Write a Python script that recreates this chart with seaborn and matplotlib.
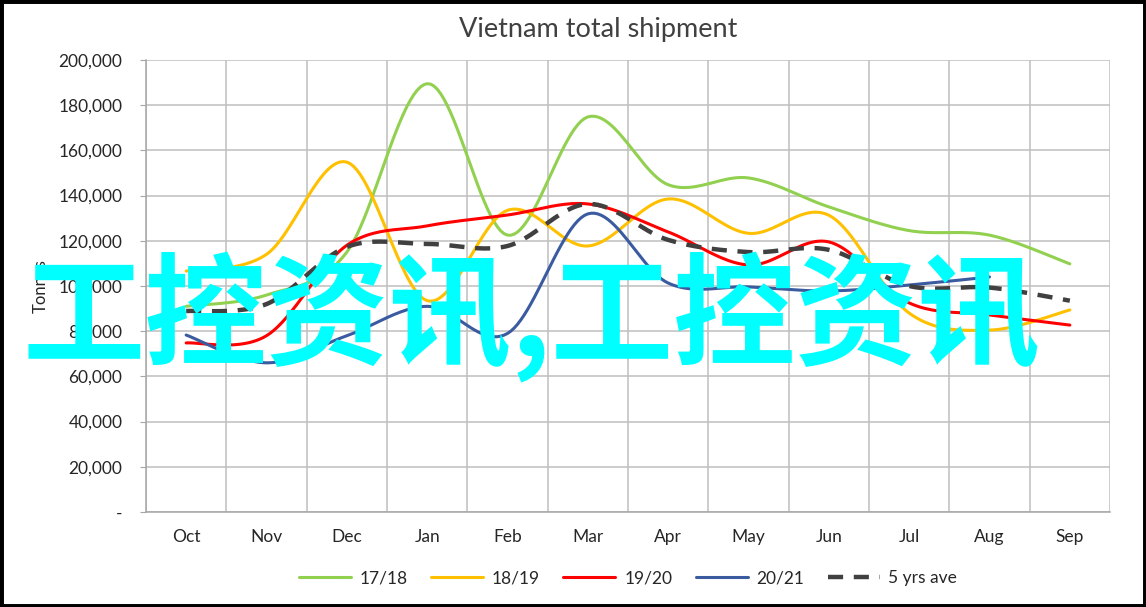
import numpy as np
import matplotlib
matplotlib.use("Agg")
import matplotlib.pyplot as plt
from matplotlib.lines import Line2D
from matplotlib.patches import Rectangle
import seaborn as sns

# ========================
# DATA
# ========================
months = ["Oct", "Nov", "Dec", "Jan", "Feb", "Mar", "Apr", "May", "Jun", "Jul", "Aug", "Sep"]

s_1718 = [91000, 96000, 115000, 189500, 122500, 174800, 144800, 147800, 135000, 124500, 122500, 109800]
s_1819 = [106600, 114000, 154800, 93500, 133500, 117700, 138500, 123300, 131300, 88000, 80500, 89400]
s_1920 = [74800, 78000, 118000, 126600, 131400, 136300, 123900, 109300, 119500, 92500, 87200, 82700]
s_2021 = [78300, 66000, 78000, 91000, 79000, 131900, 101300, 99600, 97800, 100400, 104000]
s_avg = [88900, 92000, 117300, 118600, 117700, 136300, 120400, 115000, 116000, 100000, 99300, 93500]

series_names = ["17/18", "18/19", "19/20", "20/21", "5 yrs ave"]
series_vals = [s_1718, s_1819, s_1920, s_2021, s_avg]
series_colors = ["#92D050", "#FFC000", "#FF0000", "#3A5BA0", "#404040"]

y_ticks = list(range(0, 200001, 20000))


def smooth(vals, n=24):
    # excel-like smoothed line (catmull-rom through the data points)
    p = np.asarray(vals, dtype=float)
    xs, ys = [], []
    for i in range(len(p) - 1):
        p0 = p[i - 1] if i > 0 else p[i]
        p3 = p[i + 2] if i + 2 < len(p) else p[i + 1]
        x0 = i - 1 if i > 0 else i
        x3 = i + 2 if i + 2 < len(p) else i + 1
        t = np.linspace(0, 1, n, endpoint=(i == len(p) - 2))
        b0 = p[i]
        b1 = p[i] + (p[i + 1] - p0) / 6
        b2 = p[i + 1] - (p3 - p[i]) / 6
        b3 = p[i + 1]
        c0, c3 = i, i + 1
        c1 = i + (i + 1 - x0) / 6
        c2 = i + 1 - (x3 - i) / 6
        xs.append((1 - t) ** 3 * c0 + 3 * (1 - t) ** 2 * t * c1 + 3 * (1 - t) * t ** 2 * c2 + t ** 3 * c3)
        ys.append((1 - t) ** 3 * b0 + 3 * (1 - t) ** 2 * t * b1 + 3 * (1 - t) * t ** 2 * b2 + t ** 3 * b3)
    return np.concatenate(xs), np.concatenate(ys)


# ========================
# STYLE
# ========================
sns.set_style("white")
plt.rcParams["font.family"] = ["Lato", "DejaVu Sans"]

fig = plt.figure(figsize=(11.46, 6.07), dpi=100)
ax = fig.add_axes([0.1274, 0.1565, 0.8412, 0.7447])

for name, vals, col in zip(series_names, series_vals, series_colors):
    xs, ys = smooth(vals)
    if name == "5 yrs ave":
        sns.lineplot(x=xs, y=ys, ax=ax, color=col, lw=3.2, sort=False,
                     linestyle=(0, (3.4, 2.4)), zorder=4)
    else:
        sns.lineplot(x=xs, y=ys, ax=ax, color=col, lw=2.2, sort=False, zorder=3)

ax.set_xlim(-0.5, len(months) - 0.5)
ax.set_ylim(0, 200000)
ax.set_xticks(range(len(months)))
ax.set_xticklabels(months)
ax.set_xticks(np.arange(-0.5, len(months), 1), minor=True)
ax.set_yticks(y_ticks)
ax.set_yticklabels(["-" if v == 0 else f"{v:,}" for v in y_ticks])

ax.grid(True, axis="y", color="#BFBFBF", lw=1.1)
ax.grid(True, axis="x", which="minor", color="#BFBFBF", lw=1.1)
ax.grid(False, axis="x", which="major")
ax.set_axisbelow(True)

for side in ["top", "right"]:
    ax.spines[side].set_visible(False)
for side in ["left", "bottom"]:
    ax.spines[side].set_color("#A6A6A6")
    ax.spines[side].set_linewidth(1.1)

ax.tick_params(axis="y", which="major", left=True, length=4, color="#A6A6A6",
               labelsize=12.5, labelcolor="#262626", pad=13)
ax.tick_params(axis="x", which="both", bottom=False, labelsize=12.5,
               labelcolor="#262626", pad=9)
ax.set_ylabel("Tonnes", fontsize=12, color="#262626", labelpad=7)
ax.set_xlabel("")

fig.text(0.522, 0.951, "Vietnam total shipment", ha="center", va="center",
         fontsize=19.5, color="#404040")

handles = []
for name, col in zip(series_names, series_colors):
    if name == "5 yrs ave":
        handles.append(Line2D([], [], color=col, lw=3.2, linestyle=(0, (3.4, 2.4))))
    else:
        handles.append(Line2D([], [], color=col, lw=2.2))
fig.legend(handles, series_names, loc="center", bbox_to_anchor=(0.548, 0.047),
           ncol=5, frameon=False, fontsize=12.5, handlelength=3.0,
           handletextpad=0.5, columnspacing=1.35, labelcolor="#262626")

# watermark overlay
fig.text(0.464, 0.478, "工控资讯,工控资讯", ha="center", va="center",
         fontsize=88, color="#00FFFF", weight="bold",
         family=["Noto Sans CJK SC", "DejaVu Sans"], zorder=10)

fig.patches.append(Rectangle((0, 0), 1, 1, transform=fig.transFigure,
                             fill=False, edgecolor="black", lw=5))

fig.savefig("out.png", dpi=100)
plt.close(fig)
